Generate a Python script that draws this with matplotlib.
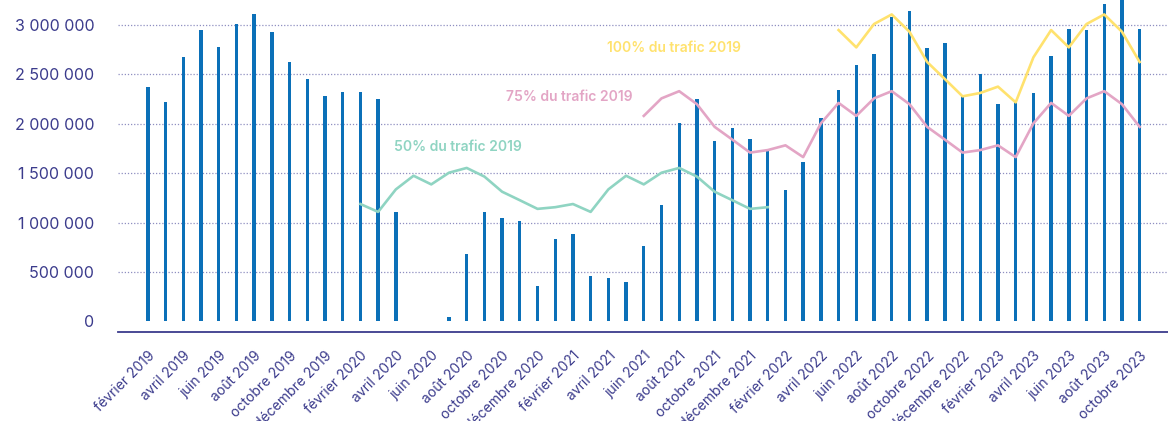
import matplotlib.pyplot as plt
from matplotlib.ticker import FuncFormatter

# monthly traffic, février 2019 -> octobre 2023
trafic = [
    2374000, 2215000, 2670000, 2946000, 2771000, 3007000, 3104000, 2929000, 2623000, 2451000, 2276000,
    2316000, 2316000, 2246000, 1108000, 0, 0, 47000, 680000, 1108000, 1047000, 1017000, 357000,
    832000, 879000, 461000, 434000, 394000, 761000, 1175000, 2007000, 2246000, 1828000, 1956000, 1848000,
    1731000, 1327000, 1613000, 2057000, 2337000, 2589000, 2700000, 3074000, 3138000, 2761000, 2811000, 2293000,
    2505000, 2195000, 2229000, 2306000, 2680000, 2956000, 2949000, 3205000, 3270000, 2956000,
]

# 2019 reference, janvier -> décembre
trafic_2019 = [2310000, 2374000, 2215000, 2670000, 2946000, 2771000,
               3007000, 3104000, 2929000, 2623000, 2451000, 2276000]

mois = ["janvier", "février", "mars", "avril", "mai", "juin", "juillet",
        "août", "septembre", "octobre", "novembre", "décembre"]

# (label, share of 2019, first index, last index, colour)
courbes = [
    ("50% du trafic 2019", 0.50, 12, 35, "#8fd4c2"),
    ("75% du trafic 2019", 0.75, 28, 56, "#e3a5c5"),
    ("100% du trafic 2019", 1.00, 39, 56, "#ffe26e"),
]

yticks = [0, 500000, 1000000, 1500000, 2000000, 2500000, 3000000]

labels = []
for k in range(len(trafic)):
    m = (k + 1) % 12
    y = 2019 + (k + 1) // 12
    labels.append(f"{mois[m]} {y}")

plt.rcParams['font.family'] = ['Inter', 'DejaVu Sans']
navy = "#3b3b8c"

fig = plt.figure(figsize=(11.68, 4.21), dpi=100)
ax = fig.add_axes([0.101, 0.2114, 0.899, 0.7886])

x = list(range(len(trafic)))
ax.bar(x, trafic, width=0.19, color="#0b70b8", linewidth=0, zorder=2)

text_pos = [(13.9, 1764000), (20.2, 2269000), (25.9, 2765000)]
for (name, pct, i0, i1, col), (tx, ty) in zip(courbes, text_pos):
    xs = list(range(i0, i1 + 1))
    ys = [pct * trafic_2019[(k + 1) % 12] for k in xs]
    ax.plot(xs, ys, color=col, linewidth=1.9, zorder=3)
    ax.text(tx, ty, name, color=col, fontsize=10, fontweight="semibold", va="center", ha="left")

# dotted grid, none on the zero line
for v in yticks[1:]:
    ax.axhline(v, linestyle=(0, (1, 1.5)), color="#8f8fc0", linewidth=0.9, zorder=0)

ax.set_xlim(-1.69, 57.6)
ax.set_ylim(-107000, 3250000)
ax.set_yticks(yticks)
ax.yaxis.set_major_formatter(FuncFormatter(lambda v, p: f"{v:,.0f}".replace(",", " ")))
ax.set_xticks(x[::2])
ax.set_xticklabels(labels[::2], rotation=45, ha="right", rotation_mode="anchor")

for s in ["left", "right", "top"]:
    ax.spines[s].set_visible(False)
ax.spines["bottom"].set_color(navy)
ax.spines["bottom"].set_linewidth(1.3)
ax.tick_params(axis="y", length=0, pad=17, labelsize=11.5, labelcolor=navy)
ax.tick_params(axis="x", length=0, pad=12, labelsize=10, labelcolor=navy)

plt.savefig("out.png", dpi=100)
